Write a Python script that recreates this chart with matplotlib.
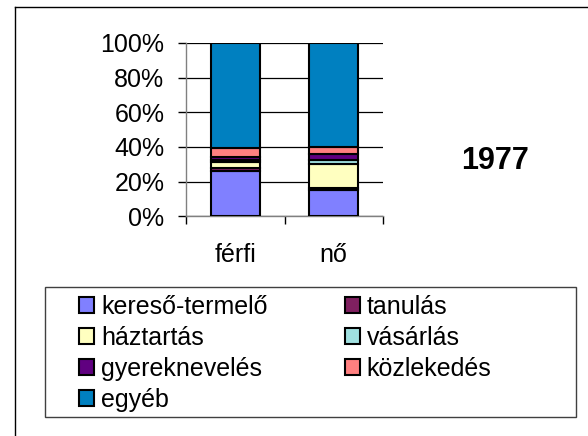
import matplotlib.pyplot as plt
import numpy as np
from matplotlib.ticker import PercentFormatter
from matplotlib.patches import Rectangle, Patch
from matplotlib.lines import Line2D

plt.rcParams['font.family'] = ['Liberation Sans', 'DejaVu Sans']

# time use shares, 1977
groups = ["férfi", "nő"]
activities = ["kereső-termelő", "tanulás", "háztartás", "vásárlás",
              "gyereknevelés", "közlekedés", "egyéb"]
ferfi = [26.0, 1.6, 3.5, 1.2, 2.0, 5.0, 60.7]
no = [15.2, 1.1, 13.6, 2.3, 4.0, 3.8, 60.0]
colors = ["#8080FF", "#802060", "#FFFFC0", "#A0E0E0", "#600080", "#FF8080", "#0080C0"]
year_label = "1977"

W, H = 588, 436
fig = plt.figure(figsize=(W / 100, H / 100), dpi=100)

def fx(px):
    return px / W

def fy(py):
    return 1 - py / H

ax = fig.add_axes([fx(186), fy(216.3), (383 - 186) / W, 173.3 / H])

vals = np.array([ferfi, no])
x = np.arange(len(groups))
bottom = np.zeros(len(groups))
for i, name in enumerate(activities):
    ax.bar(x, vals[:, i], 0.5, bottom=bottom, color=colors[i],
           edgecolor="black", linewidth=1.5, label=name, zorder=3)
    bottom += vals[:, i]

ax.set_xlim(-0.5, 1.5)
ax.set_ylim(0, 100)
ax.set_yticks(np.arange(0, 101, 20))
ax.yaxis.set_major_formatter(PercentFormatter(100, decimals=0))
ax.yaxis.grid(True, color="black", linewidth=0.9, zorder=0)
ax.set_axisbelow(True)

ax.set_xticks(x)
ax.set_xticklabels(groups)
ax.set_xticks([-0.5, 0.5, 1.5], minor=True)
ax.tick_params(axis="x", which="major", length=0, pad=19.5, labelsize=18)
ax.tick_params(axis="x", which="minor", length=6, width=1, color="black", direction="out")
ax.tick_params(axis="y", length=5.5, width=1, color="black", pad=10, labelsize=18)

for s in ["top", "right"]:
    ax.spines[s].set_visible(False)
for s in ["left", "bottom"]:
    ax.spines[s].set_color("#808080")
    ax.spines[s].set_linewidth(1)

fig.text(fx(495.5), fy(161), year_label, fontsize=22, fontweight="bold",
         ha="center", va="center")

# outer frame (left and top edges visible)
fig.add_artist(Line2D([fx(14.5), fx(14.5)], [0, fy(7.5)], color="black", lw=1))
fig.add_artist(Line2D([fx(14.5), 1], [fy(7.5), fy(7.5)], color="black", lw=1))

# legend box
fig.add_artist(Rectangle((fx(45), fy(417)), (576 - 45) / W, 130 / H,
                         transform=fig.transFigure, fill=False,
                         edgecolor="#404040", lw=1))

order = [0, 2, 4, 6, 1, 3, 5]
handles = [Patch(facecolor=colors[i], edgecolor="black", linewidth=1.5) for i in order]
labels = [activities[i] for i in order]
fig.legend(handles, labels, ncol=2, frameon=False, loc="upper left",
           bbox_to_anchor=(fx(79), fy(295)), fontsize=18,
           handlelength=0.6, handleheight=0.6, handletextpad=0.28,
           labelspacing=0.28, columnspacing=3.08, borderpad=0, borderaxespad=0)

fig.savefig("out.png", dpi=100)
